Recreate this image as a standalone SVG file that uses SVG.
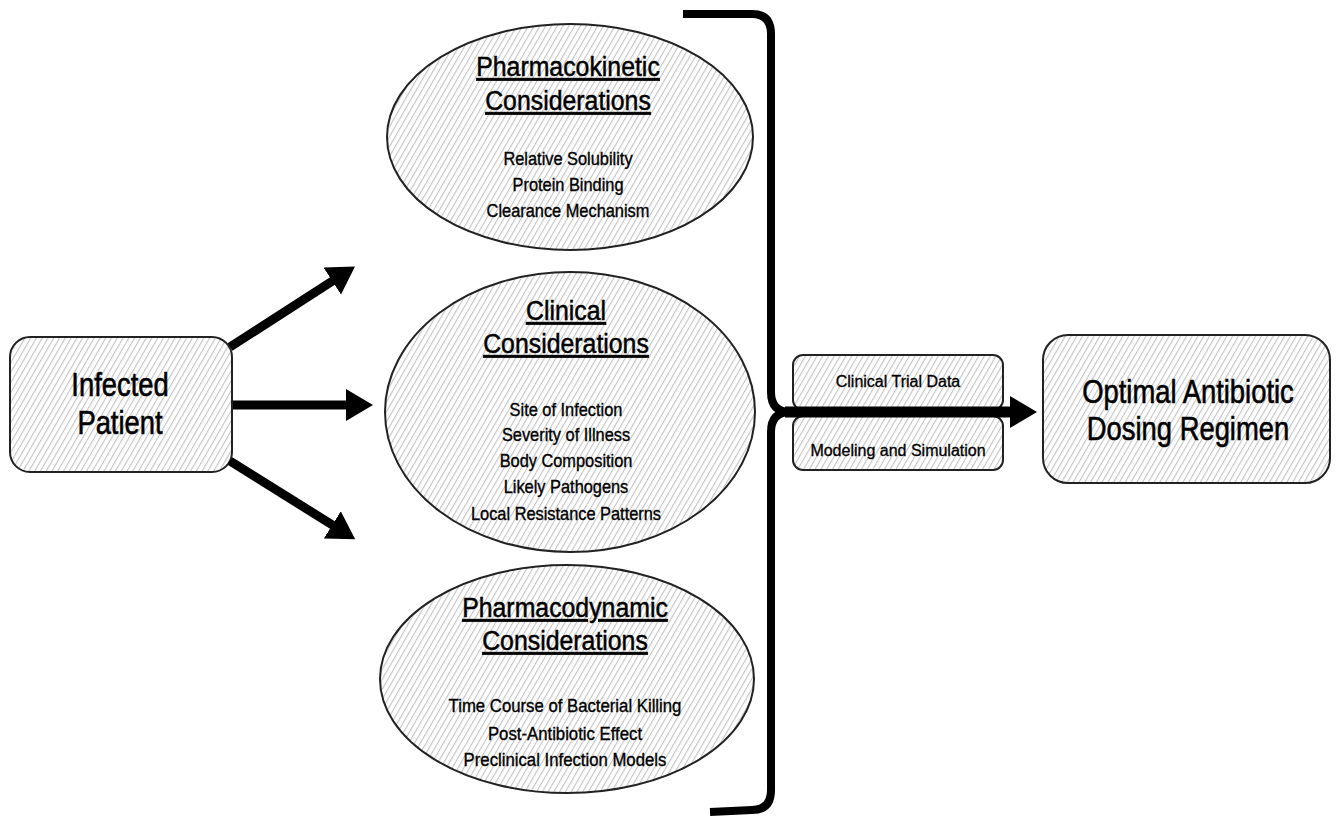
<svg xmlns="http://www.w3.org/2000/svg" width="1340" height="818" viewBox="0 0 1340 818">
<defs>
<pattern id="hatch" patternUnits="userSpaceOnUse" width="5" height="5" patternTransform="rotate(30)">
<rect width="5" height="5" fill="#ffffff"/>
<line x1="0.6" y1="0" x2="0.6" y2="5" stroke="#c2c2c2" stroke-width="1.1"/>
</pattern>
<marker id="ah" markerUnits="userSpaceOnUse" markerWidth="30" markerHeight="34" refX="2" refY="16" orient="auto" viewBox="0 0 30 32">
<path d="M0,0 L27,16 L0,32 Z" fill="#000"/>
</marker>
<style>
.shape{fill:url(#hatch);stroke:#222;stroke-width:2}
text{font-family:"Liberation Sans",Arial,sans-serif;fill:#000;text-anchor:middle;stroke:#000}
.big{font-size:33px;stroke-width:0.6}
.head{font-size:27px;text-decoration:underline;stroke-width:0.5}
.body{font-size:18px;stroke-width:0.35}
.small{font-size:16px;stroke-width:0.3}
.arrow{stroke:#000;stroke-width:9;fill:none;marker-end:url(#ah)}
.brk{stroke:#000;stroke-width:8;fill:none}
</style>
</defs>
<rect width="1340" height="818" fill="#fff"/>

<g id="infected-patient">
<rect class="shape" x="10" y="337" width="222" height="135" rx="20"/>
<text class="big" transform="translate(120 0) scale(0.83 1)" x="0" y="396">Infected</text>
<text class="big" transform="translate(120 0) scale(0.83 1)" x="0" y="434">Patient</text>
</g>

<g id="pk">
<ellipse class="shape" cx="570" cy="137" rx="183" ry="113"/>
<text class="head" transform="translate(568 0) scale(0.92 1)" x="0" y="76">Pharmacokinetic</text>
<text class="head" transform="translate(568 0) scale(0.92 1)" x="0" y="110">Considerations</text>
<text class="body" transform="translate(568 0) scale(0.91 1)" x="0" y="165">Relative Solubility</text>
<text class="body" transform="translate(568 0) scale(0.91 1)" x="0" y="191">Protein Binding</text>
<text class="body" transform="translate(568 0) scale(0.91 1)" x="0" y="217">Clearance Mechanism</text>
</g>

<g id="clinical">
<ellipse class="shape" cx="570" cy="412" rx="185" ry="140"/>
<text class="head" transform="translate(566 0) scale(0.92 1)" x="0" y="320">Clinical</text>
<text class="head" transform="translate(566 0) scale(0.92 1)" x="0" y="353">Considerations</text>
<text class="body" transform="translate(566 0) scale(0.91 1)" x="0" y="416">Site of Infection</text>
<text class="body" transform="translate(566 0) scale(0.91 1)" x="0" y="441">Severity of Illness</text>
<text class="body" transform="translate(566 0) scale(0.91 1)" x="0" y="467">Body Composition</text>
<text class="body" transform="translate(566 0) scale(0.91 1)" x="0" y="493">Likely Pathogens</text>
<text class="body" transform="translate(566 0) scale(0.91 1)" x="0" y="520">Local Resistance Patterns</text>
</g>

<g id="pd">
<ellipse class="shape" cx="567" cy="679" rx="187" ry="114"/>
<text class="head" transform="translate(565 0) scale(0.92 1)" x="0" y="617">Pharmacodynamic</text>
<text class="head" transform="translate(565 0) scale(0.92 1)" x="0" y="650">Considerations</text>
<text class="body" transform="translate(565 0) scale(0.93 1)" x="0" y="712">Time Course of Bacterial Killing</text>
<text class="body" transform="translate(565 0) scale(0.93 1)" x="0" y="740">Post-Antibiotic Effect</text>
<text class="body" transform="translate(565 0) scale(0.93 1)" x="0" y="766">Preclinical Infection Models</text>
</g>

<g id="clinical-trial-data">
<rect class="shape" x="793" y="355" width="210" height="55" rx="10"/>
<text class="small" x="898" y="387">Clinical Trial Data</text>
</g>

<g id="modeling-simulation">
<rect class="shape" x="793" y="416" width="210" height="54" rx="10"/>
<text class="small" x="898" y="456">Modeling and Simulation</text>
</g>

<g id="optimal-regimen">
<rect class="shape" x="1043" y="335" width="287" height="148" rx="25"/>
<text class="big" transform="translate(1188 0) scale(0.83 1)" x="0" y="403">Optimal Antibiotic</text>
<text class="big" transform="translate(1188 0) scale(0.83 1)" x="0" y="440">Dosing Regimen</text>
</g>

<g id="connectors">
<line class="arrow" x1="230" y1="347" x2="334" y2="280"/>
<line class="arrow" x1="233" y1="405" x2="348" y2="405"/>
<line class="arrow" x1="230" y1="461" x2="334" y2="526"/>
<path class="brk" d="M683,14 L752,14 Q771,14 771,34 L771,392 Q771,412 790,412"/>
<path class="brk" d="M790,412 Q771,412 771,432 L771,790 Q771,810 752,810 L710,812"/>
<line class="arrow" x1="785" y1="412" x2="1012" y2="412" style="stroke-width:11"/>
</g>
</svg>
